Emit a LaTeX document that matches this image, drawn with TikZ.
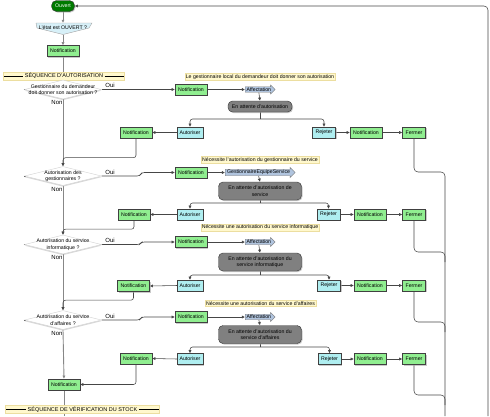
\documentclass[tikz,border=0pt]{standalone}
\usepackage{fontspec}
\setmainfont{Liberation Sans}
\usetikzlibrary{shapes.geometric,shapes.arrows,shadows,arrows.meta}
\pgfdeclarelayer{bg}
\pgfsetlayers{bg,main}
\definecolor{boxgreen}{RGB}{144,238,144}
\definecolor{boxcyan}{RGB}{175,238,240}
\definecolor{darkgreen}{RGB}{0,122,0}
\definecolor{waitgray}{RGB}{128,128,128}
\definecolor{notefill}{RGB}{255,248,205}
\definecolor{noteline}{RGB}{236,222,160}
\definecolor{affill}{RGB}{176,196,222}
\definecolor{mainline}{RGB}{135,135,135}
\definecolor{conline}{RGB}{70,70,70}
\definecolor{qfill}{RGB}{215,240,248}
\tikzset{
 every node/.style={font=\fontsize{5.2}{6.3}\selectfont, inner sep=0.5pt},
 shad/.style={drop shadow={shadow xshift=1pt,shadow yshift=-1pt,fill=gray!70,opacity=0.6}},
 gbox/.style={rectangle, draw=black!75, fill=boxgreen, minimum height=11pt, shad},
 cbox/.style={rectangle, draw=black!75, fill=boxcyan, minimum height=11pt, shad},
 notif/.style={gbox, minimum width=32pt},
 fermer/.style={gbox, minimum width=23pt},
 autor/.style={cbox, minimum width=26pt},
 rejet/.style={cbox, minimum width=23pt},
 ouv/.style={rectangle, rounded corners=5pt, draw=black!80, fill=darkgreen, text=white, minimum width=23pt, minimum height=11pt, inner sep=0pt, shad},
 waitbox/.style={rectangle, rounded corners=4.5pt, draw=black!80, fill=waitgray, align=center, shad},
 note/.style={rectangle, draw=noteline, fill=notefill, inner sep=0.9pt},
 banner/.style={rectangle, draw=noteline, fill=notefill, inner sep=0.8pt, minimum height=8pt, font=\fontsize{5.5}{6}\selectfont},
 aff/.style={single arrow, draw=black!55, fill=affill, single arrow head extend=1.8pt, inner sep=0.6pt, minimum height=30pt, anchor=tail},
 qshape/.style={diamond, draw=gray!35, fill=white, minimum width=77pt, minimum height=19pt, inner sep=0pt, drop shadow={shadow xshift=0pt,shadow yshift=-1.2pt,fill=gray!60,opacity=0.5}},
 qtxt/.style={align=center},
 lbl/.style={font=\fontsize{6}{7}\selectfont, inner sep=0pt},
 main/.style={draw=mainline, line width=0.9pt},
 con/.style={draw=conline, line width=0.55pt, rounded corners=2.5pt},
 arr/.style={-{Latex[length=3.2pt,width=3.2pt]}},
}
\newcommand{\bl}[1]{\rule[1.7pt]{#1}{0.4pt}}
\begin{document}
\begin{tikzpicture}[x=1pt,y=-1pt]
\useasboundingbox (0,0) rectangle (490,416);
% ---------- top ----------
\node[ouv] (ouv) at (63,6) {Ouvert};
\coordinate (q0top) at (63,23);
\coordinate (q0bot) at (63,34.5);
\draw[draw=gray!70, fill=qfill, line width=0.4pt] (36,23) -- (92,23) -- (89,28) -- (63,34.5) -- (37,28) -- cycle;
\node (q0t) at (63,27.6) {L'état est OUVERT ?};
\node[notif] (n0) at (63,51) {Notification};
\node[banner, minimum width=119pt] (b1) at (64,76) {\bl{19pt} SÉQUENCE D'AUTORISATION \bl{19pt}};
% ---------- section 1 ----------
\node[qshape] (q1) at (63,89.5) {};
\node[qtxt] (q1t) at (63,89.5) {Gestionnaire du demandeur\\doit donner son autorisation ?};
\node[lbl] (oui1) at (110,85.5) {Oui};
\node[lbl] (non1) at (57,102) {Non};
\node[note] (note1) at (260,77) {Le gestionnaire local du demandeur doit donner son autorisation};
\node[notif] (r1) at (191,89.5) {Notification};
\node[aff] (a1) at (245,89.5) {Affectation};
\node[waitbox, minimum width=64pt, minimum height=11pt] (w1) at (260,106.5) {En attente d'autorisation};
\coordinate (s1) at (260,119);
\node[autor] (au1) at (190,132.5) {Autoriser};
\node[rejet] (rj1) at (324,132.5) {Rejeter};
\node[notif] (rb1) at (366,132.5) {Notification};
\node[fermer] (f1) at (414,132.5) {Fermer};
\node[notif] (l1) at (136,132.5) {Notification};
% ---------- section 2 ----------
\node[qshape] (q2) at (63,176) {};
\node[qtxt] (q2t) at (63,176) {Autorisation des\\gestionnaires ?};
\node[lbl] (oui2) at (110,172) {Oui};
\node[lbl] (non2) at (57,189) {Non};
\node[note] (note2) at (260,160) {Nécessite l'autorisation du gestionnaire du service};
\node[notif] (r2) at (191,172.5) {Notification};
\node[aff, minimum height=70pt] (a2) at (225,172.5) {GestionnaireEquipeService};
\node[waitbox, minimum width=83pt, minimum height=18pt] (w2) at (260,191) {En attente d'autorisation de\\service};
\coordinate (s2) at (260,203);
\node[autor] (au2) at (190,214.5) {Autoriser};
\node[rejet] (rj2) at (328.5,214.5) {Rejeter};
\node[notif] (rb2) at (370,214.5) {Notification};
\node[fermer] (f2) at (414,214.5) {Fermer};
\node[notif] (l2) at (134,214.5) {Notification};
% ---------- section 3 ----------
\node[qshape] (q3) at (63,244.5) {};
\node[qtxt] (q3t) at (63,244.5) {Autorisation du service\\informatique ?};
\node[lbl] (oui3) at (110,240.5) {Oui};
\node[lbl] (non3) at (57,257.5) {Non};
\node[note] (note3) at (260,227.5) {Nécessite une autorisation du service informatique};
\node[notif] (r3) at (191,242) {Notification};
\node[aff] (a3) at (245,242) {Affectation};
\node[waitbox, minimum width=83pt, minimum height=18pt] (w3) at (260,262) {En attente d'autorisation du\\service informatique};
\coordinate (s3) at (260,275);
\node[autor] (au3) at (190,285.5) {Autoriser};
\node[rejet] (rj3) at (329,285.5) {Rejeter};
\node[notif] (rb3) at (370,285.5) {Notification};
\node[fermer] (f3) at (414,285.5) {Fermer};
\node[notif] (l3) at (133.5,286) {Notification};
% ---------- section 4 ----------
\node[qshape] (q4) at (63,320) {};
\node[qtxt] (q4t) at (63,320) {Autorisation du service\\d'affaires ?};
\node[lbl] (oui4) at (110,316) {Oui};
\node[lbl] (non4) at (57,333) {Non};
\node[note] (note4) at (260.5,303.5) {Nécessite une autorisation du service d'affaires};
\node[notif] (r4) at (191,317) {Notification};
\node[aff] (a4) at (245,317) {Affectation};
\node[waitbox, minimum width=83pt, minimum height=18pt] (w4) at (260,334.5) {En attente d'autorisation du\\service d'affaires};
\coordinate (s4) at (260,347);
\node[autor] (au4) at (190,359) {Autoriser};
\node[rejet] (rj4) at (329.5,359) {Rejeter};
\node[notif] (rb4) at (370,359) {Notification};
\node[fermer] (f4) at (414,359) {Fermer};
\node[notif] (l4) at (136,358.5) {Notification};
\node[notif] (n5) at (64,384.5) {Notification};
\node[banner, minimum width=149pt] (b2) at (82.5,409.5) {\bl{20pt} SÉQUENCE DE VÉRIFICATION DU STOCK \bl{20pt}};
\coordinate (bot) at (64,416);
\coordinate (loopend) at (488,416);
\coordinate (coll) at (445,416);
% ---------- connectors ----------
\begin{pgfonlayer}{bg}
\draw[con, arr, rounded corners=4pt] (loopend) -- (488,6) -- (ouv.east);
\draw[main, arr] (ouv.south) -- (q0top);
\draw[main, arr] (q0bot) -- (n0.north);
\draw[main] (n0.south) -- (q1.north);
\draw[main, arr] (q1.south) -- (q2.north);
\draw[main, arr] (q2.south) -- (q3.north);
\draw[main, arr] (q3.south) -- (q4.north);
\draw[main, arr] (q4.south) -- (n5.north);
\draw[main] (n5.south) -- (bot);
% section 1
\draw[con, arr] (q1.east) -- (r1.west);
\draw[con, arr] (r1.east) -- (a1.tail);
\draw[con, arr] (a1.270) -- (w1.north);
\draw[con] (w1.south) -- (s1);
\draw[con, arr] (s1) -| (au1.north);
\draw[con, arr] (s1) -| (rj1.north);
\draw[con, arr] (au1.west) -- (l1.east);
\draw[con, arr] (rj1.east) -- (rb1.west);
\draw[con, arr] (rb1.east) -- (f1.west);
\draw[con, arr] (l1.south) -- ++(0,19.5) -| (q2.north);
\draw[con, rounded corners=4pt] (f1.south) -- (414,172) -- (445,172) -- (coll);
% section 2
\draw[con, arr] (q2.east) -- ++(38,0) -- ++(2,-3.5) -- (r2.west);
\draw[con, arr] (r2.east) -- (a2.tail);
\draw[con, arr] (a2.270) -- (w2.north);
\draw[con] (w2.south) -- (s2);
\draw[con, arr] (s2) -| (au2.north);
\draw[con, arr] (s2) -| (rj2.north);
\draw[con, arr] (au2.west) -- (l2.east);
\draw[con, arr] (rj2.east) -- (rb2.west);
\draw[con, arr] (rb2.east) -- (f2.west);
\draw[con, arr] (l2.south) -- ++(0,9) -| (q3.north);
\draw[con, rounded corners=4pt] (f2.south) -- (414,252) -- (445,252) -- (445,262);
% section 3
\draw[con, arr] (q3.east) -- ++(38,0) -- ++(2,-2.5) -- (r3.west);
\draw[con, arr] (r3.east) -- (a3.tail);
\draw[con, arr] (a3.270) -- (w3.north);
\draw[con] (w3.south) -- (s3);
\draw[con, arr] (s3) -| (au3.north);
\draw[con, arr] (s3) -| (rj3.north);
\draw[con, arr] (au3.west) -- (l3.east);
\draw[con, arr] (rj3.east) -- (rb3.west);
\draw[con, arr] (rb3.east) -- (f3.west);
\draw[con, arr] (l3.south) -- ++(0,8.5) -| (q4.north);
\draw[con, rounded corners=4pt] (f3.south) -- (414,322) -- (445,322) -- (445,332);
% section 4
\draw[con, arr] (q4.east) -- ++(38,0) -- ++(2,-3) -- (r4.west);
\draw[con, arr] (r4.east) -- (a4.tail);
\draw[con, arr] (a4.270) -- (w4.north);
\draw[con] (w4.south) -- (s4);
\draw[con, arr] (s4) -| (au4.north);
\draw[con, arr] (s4) -| (rj4.north);
\draw[con, arr] (au4.west) -- (l4.east);
\draw[con, arr] (rj4.east) -- (rb4.west);
\draw[con, arr] (rb4.east) -- (f4.west);
\draw[con, arr] (l4.south) |- (n5.east);
\draw[con, rounded corners=4pt] (f4.south) -- (414,395) -- (445,395) -- (445,405);
% left tips of the decisions
\draw[conline, line width=0.6pt] (q1.west) -- ++(1.5,0);
\draw[conline, line width=0.6pt] (q2.west) -- ++(1.5,0);
\draw[conline, line width=0.6pt] (q3.west) -- ++(1.5,0);
\draw[conline, line width=0.6pt] (q4.west) -- ++(1.5,0);
\end{pgfonlayer}
\end{tikzpicture}
\end{document}
